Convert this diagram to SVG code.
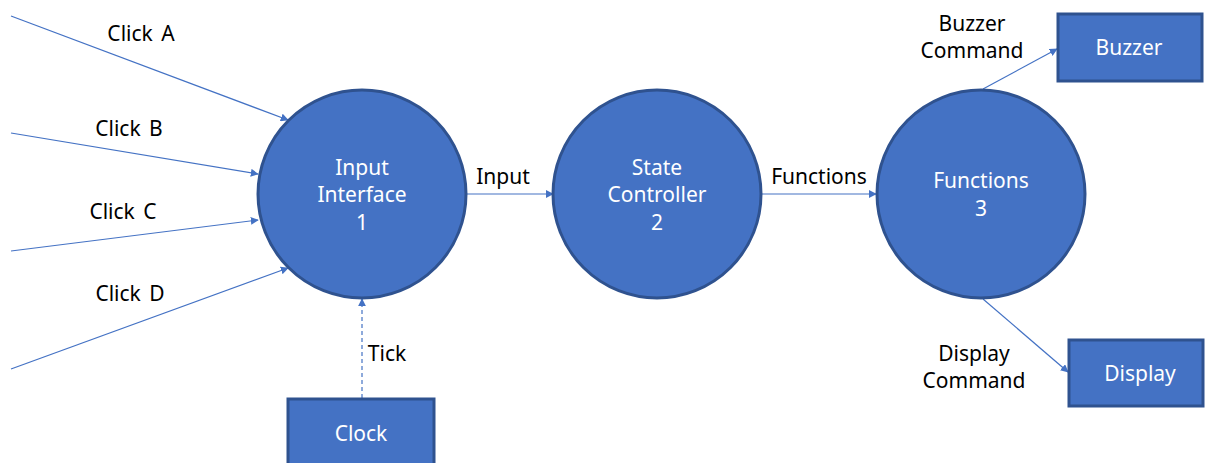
<svg xmlns="http://www.w3.org/2000/svg" width="1205" height="463" viewBox="0 0 1205 463">
<defs>
<marker id="ah" viewBox="0 0 10 10" refX="9" refY="5" markerWidth="8" markerHeight="8" markerUnits="userSpaceOnUse" orient="auto">
<path d="M0,0 L10,5 L0,10 z" fill="#4472C4"/>
</marker>
<style>
.node{fill:#4472C4;stroke:#2F528F;stroke-width:3}
.nt{font-family:"Noto Sans","Open Sans","DejaVu Sans",sans-serif;font-size:21px;fill:#ffffff;text-anchor:middle;word-spacing:2px}
.lb{font-family:"Noto Sans","Open Sans","DejaVu Sans",sans-serif;font-size:21px;fill:#000000;text-anchor:middle;word-spacing:3px}
.cn{stroke:#4472C4;stroke-width:1.2;fill:none;marker-end:url(#ah)}
.dash{stroke-dasharray:4,3}
</style>
</defs>
<rect width="1205" height="463" fill="#ffffff"/>
<g id="connectors">
<line class="cn" x1="11" y1="16" x2="288" y2="120"/>
<line class="cn" x1="11" y1="133" x2="258" y2="174"/>
<line class="cn" x1="11" y1="251" x2="258" y2="220"/>
<line class="cn" x1="11" y1="369" x2="288" y2="268"/>
<line class="cn dash" x1="362" y1="398" x2="362" y2="299"/>
<line class="cn" x1="466" y1="194" x2="553" y2="194"/>
<line class="cn" x1="762" y1="194" x2="876" y2="194"/>
<line class="cn" x1="983" y1="89" x2="1057" y2="49"/>
<line class="cn" x1="983" y1="299" x2="1068" y2="372"/>
<text class="lb" x="141" y="41">Click A</text>
<text class="lb" x="129" y="136">Click B</text>
<text class="lb" x="123" y="219">Click C</text>
<text class="lb" x="130" y="301">Click D</text>
<text class="lb" x="387" y="361">Tick</text>
<text class="lb" x="503" y="184">Input</text>
<text class="lb" x="819" y="184">Functions</text>
<text class="lb" x="972" y="31">Buzzer</text>
<text class="lb" x="972" y="58">Command</text>
<text class="lb" x="974" y="361">Display</text>
<text class="lb" x="974" y="388">Command</text>
</g>
<g id="input-interface">
<circle class="node" cx="362" cy="194" r="104"/>
<text class="nt" x="362" y="175">Input</text>
<text class="nt" x="362" y="202">Interface</text>
<text class="nt" x="362" y="230">1</text>
</g>
<g id="state-controller">
<circle class="node" cx="657" cy="194" r="104"/>
<text class="nt" x="657" y="175">State</text>
<text class="nt" x="657" y="202">Controller</text>
<text class="nt" x="657" y="230">2</text>
</g>
<g id="functions">
<circle class="node" cx="981" cy="194" r="104"/>
<text class="nt" x="981" y="188">Functions</text>
<text class="nt" x="981" y="216">3</text>
</g>
<g id="buzzer">
<rect class="node" x="1058" y="14" width="144" height="67"/>
<text class="nt" x="1129" y="55">Buzzer</text>
</g>
<g id="display">
<rect class="node" x="1069" y="340" width="134" height="66"/>
<text class="nt" x="1140" y="381">Display</text>
</g>
<g id="clock">
<rect class="node" x="288" y="399" width="146" height="70"/>
<text class="nt" x="361" y="441">Clock</text>
</g>
</svg>
